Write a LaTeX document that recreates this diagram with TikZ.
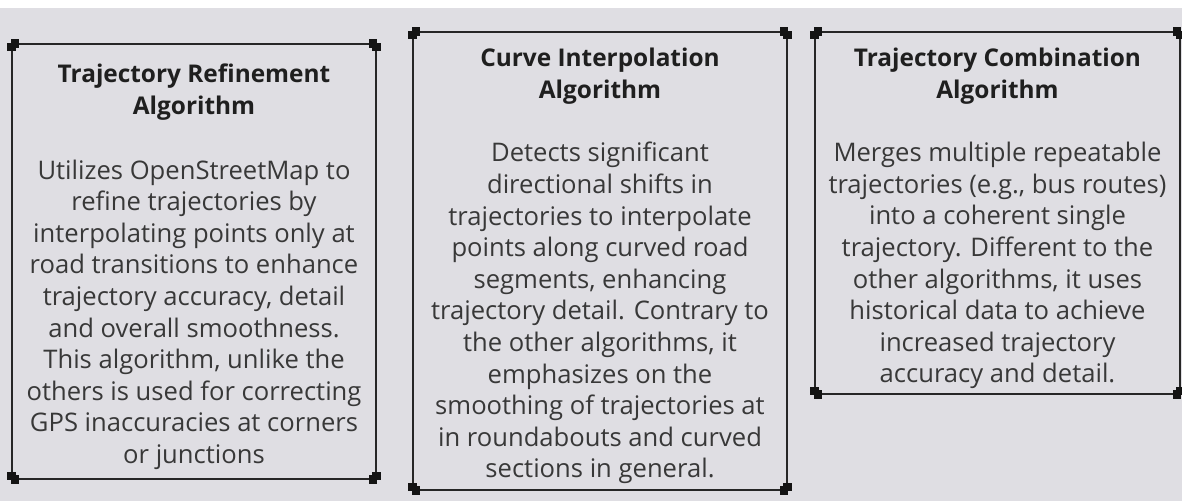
\documentclass[tikz,border=0pt]{standalone}
\usepackage{fontspec}
\setmainfont{Open Sans}
\usetikzlibrary{positioning}

\definecolor{panelgray}{HTML}{DFDEE3}
\definecolor{inkgray}{HTML}{383838}
\definecolor{framegray}{HTML}{262626}

\tikzset{
  algobox/.style={inner sep=0pt},
  side/.style={draw=framegray, line width=1.5pt},
  algotitle/.style={font=\bfseries\fontsize{18.3}{24}\selectfont, text=black!88, align=center, anchor=north, inner sep=0pt},
  algotext/.style={font=\fontsize{19.2}{23.7}\selectfont, text=inkgray, align=center, anchor=north, inner sep=0pt},
  knob/.style={fill=black!92, minimum size=6.5pt, inner sep=0pt}
}

\begin{document}
\begin{tikzpicture}[x=0.75pt,y=-0.75pt]
\useasboundingbox (0,0) rectangle (1182,501);
\fill[white] (0,0) rectangle (1182,501);
\fill[panelgray] (0,8) rectangle (1182,501);

% the three frames
\node[algobox, minimum width=273pt, minimum height=326.25pt] (refine) at (194,261.5) {};
\node[algobox, minimum width=280.5pt, minimum height=343.5pt] (curve) at (600,261) {};
\node[algobox, minimum width=273.75pt, minimum height=271.5pt] (combine) at (997.5,213) {};

% each side is its own line with a square knob at both ends
\foreach \b in {refine,curve,combine} {
  \coordinate (\b-tl) at ([xshift=2.5pt]\b.north west);
  \coordinate (\b-tr) at ([xshift=-2.5pt]\b.north east);
  \coordinate (\b-bl) at ([xshift=2.5pt]\b.south west);
  \coordinate (\b-br) at ([xshift=-2.5pt]\b.south east);
  \coordinate (\b-lt) at ([yshift=-2.5pt]\b.north west);
  \coordinate (\b-lb) at ([yshift=2.5pt]\b.south west);
  \coordinate (\b-rt) at ([yshift=-2.5pt]\b.north east);
  \coordinate (\b-rb) at ([yshift=2.5pt]\b.south east);
  \draw[side] (\b-tl) -- (\b-tr);
  \draw[side] (\b-bl) -- (\b-br);
  \draw[side] (\b-lt) -- (\b-lb);
  \draw[side] (\b-rt) -- (\b-rb);
  \foreach \c in {tl,tr,bl,br,lt,lb,rt,rb}
    \node[knob] at (\b-\c) {};
}

% titles
\node[algotitle] (refineT) at ([yshift=-14.5pt]refine.north) {Trajectory Refinement\\Algorithm};
\node[algotitle] (curveT) at ([yshift=-12pt]curve.north) {Curve Interpolation\\Algorithm};
\node[algotitle] (combineT) at ([yshift=-12pt]combine.north) {Trajectory Combination\\Algorithm};

% descriptions
\node[algotext, below=29.5pt of refineT] (refineD) {Utilizes OpenStreetMap to\\refine trajectories by\\interpolating points only at\\road transitions to enhance\\trajectory accuracy, detail\\and overall smoothness.\\This algorithm, unlike the\\others is used for correcting\\GPS inaccuracies at corners\\or junctions};
\node[algotext, below=28pt of curveT] (curveD) {Detects significant\\directional shifts in\\trajectories to interpolate\\points along curved road\\segments, enhancing\\trajectory detail. Contrary to\\the other algorithms, it\\emphasizes on the\\smoothing of trajectories at\\in roundabouts and curved\\sections in general.};
\node[algotext, below=28pt of combineT] (combineD) {Merges multiple repeatable\\trajectories (e.g., bus routes)\\into a coherent single\\trajectory. Different to the\\other algorithms, it uses\\historical data to achieve\\increased trajectory\\accuracy and detail.};
\end{tikzpicture}
\end{document}
